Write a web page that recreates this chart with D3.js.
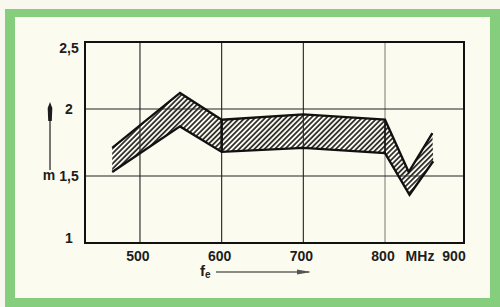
<!DOCTYPE html>
<html><head><meta charset="utf-8">
<script src="https://cdn.jsdelivr.net/npm/d3@7"></script>
<style>html,body{margin:0;padding:0;background:#f9f8ef;}svg{display:block;}</style>
</head><body>
<script>
// Data
const upperFreq = [466, 549, 600, 700, 800, 829, 858];
const upperM    = [1.71, 2.12, 1.92, 1.96, 1.92, 1.53, 1.82];
const lowerFreq = [466, 549, 600, 700, 800, 830, 859];
const lowerM    = [1.53, 1.87, 1.68, 1.71, 1.67, 1.36, 1.61];
const xTicks = [500, 600, 700, 800];
const xTickLabels = ["500", "600", "700", "800"];
const yTicks = [1, 1.5, 2, 2.5];
const yTickLabels = ["1", "1,5", "2", "2,5"];
const xUnit = "MHz";
const xExtraLabel = "900";

const W = 500, H = 307;
const svg = d3.select("body").append("svg").attr("width", W).attr("height", H);

// background and green frame
svg.append("rect").attr("width", W).attr("height", H).attr("fill", "#f9f8ef");
svg.append("rect").attr("x", 5).attr("y", 9).attr("width", 495).attr("height", 298).attr("fill", "#84ce7d");
svg.append("rect").attr("x", 15).attr("y", 17).attr("width", 475).attr("height", 281).attr("fill", "#fcfbef");

const L = 85, R = 464, T = 42, B = 243;
const x = d3.scaleLinear().domain([432.7, 896.7]).range([L, R]);
const y = d3.scaleLinear().domain([1, 2.5]).range([B, T]);

const defs = svg.append("defs");
const pat = defs.append("pattern").attr("id", "hatch").attr("patternUnits", "userSpaceOnUse")
  .attr("width", 3.6).attr("height", 3.6).attr("patternTransform", "rotate(45)");
pat.append("line").attr("x1", 0.9).attr("y1", 0).attr("x2", 0.9).attr("y2", 3.6)
  .attr("stroke", "#262626").attr("stroke-width", 1.7);

// grid
const g = svg.append("g");
g.selectAll("line.vx").data(xTicks).join("line")
  .attr("x1", d => x(d)).attr("x2", d => x(d)).attr("y1", T).attr("y2", B)
  .attr("stroke", d => d === 800 ? "#555" : "#222").attr("stroke-width", d => d === 800 ? 0.8 : 1.1);
g.selectAll("line.hy").data(yTicks.filter(v => v > 1 && v < 2.5)).join("line")
  .attr("x1", L).attr("x2", R).attr("y1", d => y(d)).attr("y2", d => y(d))
  .attr("stroke", "#222").attr("stroke-width", 1.1);

// band
const upper = upperFreq.map((f, i) => [f, upperM[i]]);
const lower = lowerFreq.map((f, i) => [f, lowerM[i]]);
const line = d3.line().x(d => x(d[0])).y(d => y(d[1]));
svg.append("path").attr("d", line(upper.concat(lower.slice().reverse())) + "Z")
  .attr("fill", "url(#hatch)").attr("stroke", "none");
svg.append("path").attr("d", line(upper)).attr("fill", "none").attr("stroke", "#111")
  .attr("stroke-width", 2.3).attr("stroke-linejoin", "miter");
svg.append("path").attr("d", line(lower)).attr("fill", "none").attr("stroke", "#111")
  .attr("stroke-width", 2.3).attr("stroke-linejoin", "miter");
[600, 800].forEach((f, k) => {
  const i = upperFreq.indexOf(f);
  svg.append("line").attr("x1", x(f)).attr("x2", x(f))
    .attr("y1", y(upperM[i])).attr("y2", y(lowerM[lowerFreq.indexOf(f)]))
    .attr("stroke", "#111").attr("stroke-width", k === 0 ? 2.6 : 1.6);
});

// frame
svg.append("rect").attr("x", L).attr("y", T).attr("width", R - L).attr("height", B - T)
  .attr("fill", "none").attr("stroke", "#111").attr("stroke-width", 2);

const font = "'Liberation Sans', Arial, sans-serif";
// y labels
svg.selectAll("text.yl").data(yTicks).join("text")
  .attr("x", 69).attr("y", d => Math.min(Math.max(y(d), T + 6), B - 5))
  .attr("dy", "0.36em").attr("text-anchor", "middle")
  .attr("font-family", font).attr("font-weight", "bold").attr("font-size", 14)
  .attr("fill", "#1d1d1d").text((d, i) => yTickLabels[i]);
// x labels
svg.selectAll("text.xl").data(xTicks).join("text")
  .attr("x", d => x(d) - 2).attr("y", 261).attr("text-anchor", "middle")
  .attr("font-family", font).attr("font-weight", "bold").attr("font-size", 14)
  .attr("fill", "#1d1d1d").text((d, i) => xTickLabels[i]);
svg.append("text").attr("x", 420).attr("y", 261).attr("text-anchor", "middle")
  .attr("font-family", font).attr("font-weight", "bold").attr("font-size", 14)
  .attr("fill", "#1d1d1d").text(xUnit);
svg.append("text").attr("x", 454).attr("y", 261).attr("text-anchor", "middle")
  .attr("font-family", font).attr("font-weight", "bold").attr("font-size", 14)
  .attr("fill", "#1d1d1d").text(xExtraLabel);

// axis name f_e with arrow
const fl = svg.append("text").attr("x", 200).attr("y", 276)
  .attr("font-family", font).attr("font-weight", "bold").attr("font-size", 15).attr("fill", "#1d1d1d");
fl.append("tspan").text("f");
fl.append("tspan").attr("font-size", 10).attr("dy", 2).text("e");
svg.append("line").attr("x1", 216).attr("x2", 309).attr("y1", 272).attr("y2", 272)
  .attr("stroke", "#1d1d1d").attr("stroke-width", 1.2);
svg.append("path").attr("d", "M297,269.5 L311,272 L297,274.5 Z").attr("fill", "#555");

// axis name m with arrow
svg.append("text").attr("x", 49).attr("y", 180).attr("text-anchor", "middle")
  .attr("font-family", font).attr("font-weight", "bold").attr("font-size", 14).attr("fill", "#1d1d1d").text("m");
svg.append("line").attr("x1", 50).attr("x2", 50).attr("y1", 170).attr("y2", 105)
  .attr("stroke", "#1d1d1d").attr("stroke-width", 1.2);
svg.append("path").attr("d", "M50,102 L52.3,108 L51.8,121 L48.2,121 L47.7,108 Z").attr("fill", "#1d1d1d");
</script>
</body></html>
